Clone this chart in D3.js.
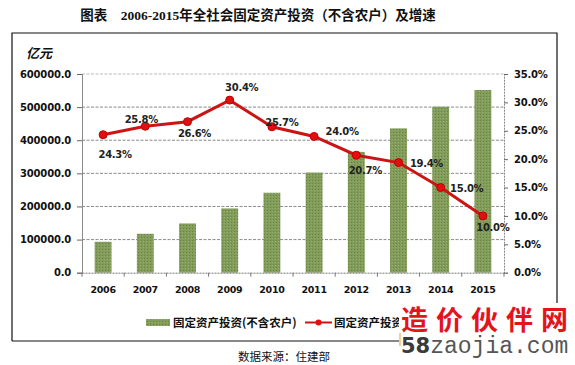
<!DOCTYPE html>
<html><head><meta charset="utf-8">
<script src="https://cdn.jsdelivr.net/npm/d3@7/dist/d3.min.js"></script>
<style>
html,body{margin:0;padding:0;background:#fff;}
svg{display:block;}
</style></head>
<body>
<svg id="chart" width="575" height="365"></svg>
<script>
// ---- data ----
const years = ["2006","2007","2008","2009","2010","2011","2012","2013","2014","2015"];
const investment = [93369, 117464, 148738, 194139, 241431, 302396, 364835, 435747, 501265, 551590];
const growth = [24.3, 25.8, 26.6, 30.4, 25.7, 24.0, 20.7, 19.4, 15.0, 10.0];
const leftTicks = [0, 100000, 200000, 300000, 400000, 500000, 600000];
const rightTicks = [0, 5, 10, 15, 20, 25, 30, 35];
const seriesNames = ["固定资产投资(不含农户)", "固定资产投资增速"];
const titleText = "图表　2006-2015年全社会固定资产投资（不含农户）及增速";
const unitText = "亿元";
const sourceText = "数据来源：住建部";
// label placement relative to each point (layout only)
const labelOffsets = [[12,19],[-4,-7],[7,11],[12,-13],[10,-5],[28,-5],[9,15],[28,0],[26,0],[10,11]];

const svg = d3.select("#chart");
const M = {left:82, right:504, top:74, bottom:272.7};

const x = d3.scaleBand().domain(years).range([M.left, M.right]).paddingInner(0.6).paddingOuter(0.3);
const xb = d3.scaleBand().domain(years).range([M.left, M.right]);
const yL = d3.scaleLinear().domain([0, 600000]).range([M.bottom, M.top]);
const yR = d3.scaleLinear().domain([0, 35]).range([M.bottom, M.top]);

// pattern for bars
const defs = svg.append("defs");
const pat = defs.append("pattern").attr("id","barpat").attr("width",3).attr("height",3).attr("patternUnits","userSpaceOnUse");
pat.append("rect").attr("width",3).attr("height",3).attr("fill","#829c5a");
pat.append("rect").attr("x",0).attr("y",0).attr("width",1).attr("height",1).attr("fill","#6a8343");
pat.append("rect").attr("x",2).attr("y",1).attr("width",1).attr("height",1).attr("fill","#95ab72");
defs.append("clipPath").attr("id","lgclip").append("rect").attr("x",0).attr("y",0).attr("width",399).attr("height",365);

// frame
svg.append("path").attr("d","M12,341 L12,33 L557,33 L557,341 L12,341").attr("fill","none").attr("stroke","#111").attr("stroke-width",1.2);

// title
svg.append("text").attr("x",258).attr("y",20).attr("text-anchor","middle")
  .attr("font-family","'Liberation Serif','Noto Sans CJK SC',serif").attr("font-weight","bold").attr("font-size",13.5)
  .attr("fill","#111").text(titleText);

// gridlines
svg.append("g").selectAll("line").data(leftTicks.slice(1)).join("line")
  .attr("x1",M.left).attr("x2",M.right).attr("y1",d=>yL(d)).attr("y2",d=>yL(d))
  .attr("stroke",(d,i)=> d===600000 ? "#bbb" : "#8a8a8a").attr("stroke-width",1).attr("stroke-dasharray","3,1.5");

// bars
svg.append("g").selectAll("rect").data(investment).join("rect")
  .attr("x",(d,i)=>x(years[i])).attr("width",x.bandwidth())
  .attr("y",d=>yL(d)).attr("height",d=>yL(0)-yL(d))
  .attr("fill","url(#barpat)");

// left axis
const axL = svg.append("g").attr("transform",`translate(${M.left},0)`)
  .call(d3.axisLeft(yL).tickValues(leftTicks).tickFormat(d=>d3.format(".1f")(d)).tickSize(5).tickPadding(6));
axL.select(".domain").attr("stroke","#888");
axL.selectAll(".tick line").attr("stroke","#666");
axL.selectAll("text").attr("font-family","'DejaVu Sans',sans-serif").attr("font-weight","bold").attr("font-size",10).attr("fill","#111").attr("letter-spacing","-0.2");

// right axis
const axR = svg.append("g").attr("transform",`translate(${M.right},0)`)
  .call(d3.axisRight(yR).tickValues(rightTicks).tickFormat(d=>d3.format(".1f")(d)+"%").tickSize(4).tickPadding(6));
axR.select(".domain").attr("stroke","#888").attr("stroke-dasharray","2,1");
axR.selectAll(".tick line").attr("stroke","#666");
axR.selectAll("text").attr("font-family","'DejaVu Sans',sans-serif").attr("font-weight","bold").attr("font-size",10).attr("fill","#111").attr("letter-spacing","-0.2");

// bottom axis
const axB = svg.append("g").attr("transform",`translate(0,${M.bottom})`)
  .call(d3.axisBottom(xb).tickSize(0).tickPadding(14));
axB.select(".domain").attr("stroke","#777").attr("stroke-dasharray","2,1");
axB.selectAll("text").attr("font-family","'DejaVu Sans',sans-serif").attr("font-weight","bold").attr("font-size",9.5).attr("fill","#111").attr("letter-spacing","-0.3");
svg.append("g").selectAll("line").data(years.concat(["end"])).join("line")
  .attr("x1",(d,i)=>M.left + i*xb.bandwidth()).attr("x2",(d,i)=>M.left + i*xb.bandwidth())
  .attr("y1",M.bottom).attr("y2",M.bottom+4).attr("stroke","#777");

// unit label
svg.append("text").attr("x",26).attr("y",58).attr("font-family","'Noto Sans CJK SC',sans-serif")
  .attr("font-weight","bold").attr("font-style","italic").attr("font-size",13).attr("fill","#111").text(unitText);

// growth line
const cx = (d,i)=> xb(years[i]) + xb.bandwidth()/2;
svg.append("path").datum(growth)
  .attr("d", d3.line().x(cx).y(d=>yR(d)))
  .attr("fill","none").attr("stroke","#cc1414").attr("stroke-width",3);
svg.append("g").selectAll("circle").data(growth).join("circle")
  .attr("cx",cx).attr("cy",d=>yR(d)).attr("r",4).attr("fill","#e01010").attr("stroke","#c00000");

// data labels
svg.append("g").selectAll("text").data(growth).join("text")
  .attr("x",(d,i)=>cx(d,i)+labelOffsets[i][0]).attr("y",(d,i)=>yR(d)+labelOffsets[i][1]+4)
  .attr("text-anchor","middle").attr("font-family","'DejaVu Sans',sans-serif").attr("font-weight","bold")
  .attr("font-size",10).attr("fill","#222").attr("letter-spacing","-0.3")
  .text(d=>d3.format(".1f")(d)+"%");

// legend
const lg = svg.append("g").attr("font-family","'Noto Sans CJK SC',sans-serif").attr("font-weight","bold").attr("font-size",11.5).attr("fill","#111");
lg.append("rect").attr("x",146).attr("y",319).attr("width",24).attr("height",7).attr("fill","url(#barpat)");
lg.append("text").attr("x",173).attr("y",327).text(seriesNames[0]);
lg.append("line").attr("x1",305).attr("x2",332).attr("y1",322.5).attr("y2",322.5).attr("stroke","#cc1414").attr("stroke-width",2);
lg.append("circle").attr("cx",318.5).attr("cy",322.5).attr("r",3).attr("fill","#e01010");
lg.append("text").attr("x",334).attr("y",327).attr("clip-path","url(#lgclip)").text(seriesNames[1]);

// source
svg.append("text").attr("x",284).attr("y",361).attr("text-anchor","middle")
  .attr("font-family","'Noto Sans CJK SC',sans-serif").attr("font-size",11.5).attr("fill","#111").text(sourceText);

// watermark
const wm = svg.append("g");
wm.append("rect").attr("x",399).attr("y",303).attr("width",176).attr("height",62).attr("fill","#fff");
wm.append("text").attr("x",401).attr("y",330).attr("font-family","'Noto Sans CJK SC',sans-serif").attr("font-weight","bold")
  .attr("font-size",27).attr("letter-spacing",8).attr("fill","#e3141c").text("造价伙伴网");
wm.append("line").attr("x1",400).attr("x2",400).attr("y1",333).attr("y2",346).attr("stroke","#e89a40").attr("stroke-width",1);
const wt = wm.append("text").attr("x",401).attr("y",353);
wt.append("tspan").attr("font-family","'DejaVu Sans',sans-serif").attr("font-weight","bold").attr("font-size",21).attr("fill","#3a3a3a").text("58");
wt.append("tspan").attr("font-family","'Liberation Mono',monospace").attr("font-size",23).attr("fill","#555").text("zaojia.com");
</script>
</body></html>
